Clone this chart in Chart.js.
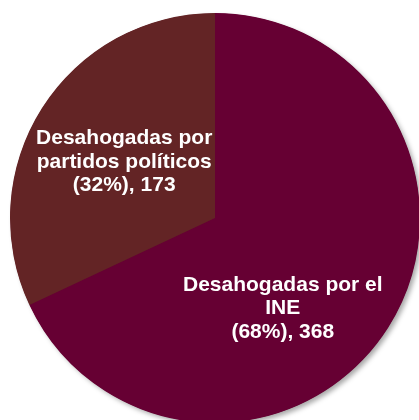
<!DOCTYPE html>
<html><head><meta charset="utf-8">
<script src="https://cdn.jsdelivr.net/npm/chart.js@4/dist/chart.umd.min.js"></script>
<style>
html,body{margin:0;padding:0;background:#fff;overflow:hidden;width:419px;height:420px;}
#wrap{position:absolute;left:0;top:0;width:430px;height:430px;}
</style></head>
<body><div id="wrap"><canvas id="c" width="430" height="430"></canvas></div>
<script>
const categories = ["Desahogadas por el INE", "Desahogadas por partidos políticos"];
const values = [368, 173];
const percents = ["68%", "32%"];
const labelLines = [
  ["Desahogadas por el", "INE", "(68%), 368"],
  ["Desahogadas por", "partidos políticos", "(32%), 173"]
];
const colors = ["#660033", "#632425"];
// label placement: angle (deg, canvas coords) and fraction of radius
const labelAngle = [53.2, 211.6];
const labelDist = [0.552, 0.52];

const shadowPlugin = {
  id: 'shadow',
  beforeDatasetsDraw(chart) {
    const arc = chart.getDatasetMeta(0).data[0];
    if (!arc) return;
    const ctx = chart.ctx;
    ctx.save();
    ctx.shadowColor = 'rgba(0,0,0,0.35)';
    ctx.shadowBlur = 5;
    ctx.shadowOffsetX = 3;
    ctx.shadowOffsetY = 3;
    ctx.beginPath();
    ctx.arc(arc.x, arc.y, arc.outerRadius - 0.5, 0, Math.PI * 2);
    ctx.fillStyle = colors[0];
    ctx.fill();
    ctx.restore();
  }
};

const labelPlugin = {
  id: 'labels',
  afterDatasetsDraw(chart) {
    const meta = chart.getDatasetMeta(0);
    const ctx = chart.ctx;
    ctx.save();
    ctx.fillStyle = '#ffffff';
    ctx.font = 'bold 21px "Liberation Sans", Arial, sans-serif';
    ctx.textAlign = 'center';
    ctx.textBaseline = 'middle';
    meta.data.forEach((arc, i) => {
      const a = labelAngle[i] * Math.PI / 180;
      const r = arc.outerRadius * labelDist[i];
      const cx = arc.x + Math.cos(a) * r;
      const cy = arc.y + Math.sin(a) * r;
      const lines = labelLines[i];
      const lh = 23.5;
      lines.forEach((t, k) => {
        ctx.fillText(t, cx, cy + (k - (lines.length - 1) / 2) * lh);
      });
    });
    ctx.restore();
  }
};

new Chart(document.getElementById('c'), {
  type: 'pie',
  data: {
    labels: categories,
    datasets: [{
      data: values,
      backgroundColor: colors,
      borderWidth: 0
    }]
  },
  options: {
    responsive: false,
    animation: false,
    layout: { padding: { left: 10, top: 13, right: 10, bottom: 7 } },
    plugins: { legend: { display: false }, tooltip: { enabled: false } }
  },
  plugins: [shadowPlugin, labelPlugin]
});
</script></body></html>
